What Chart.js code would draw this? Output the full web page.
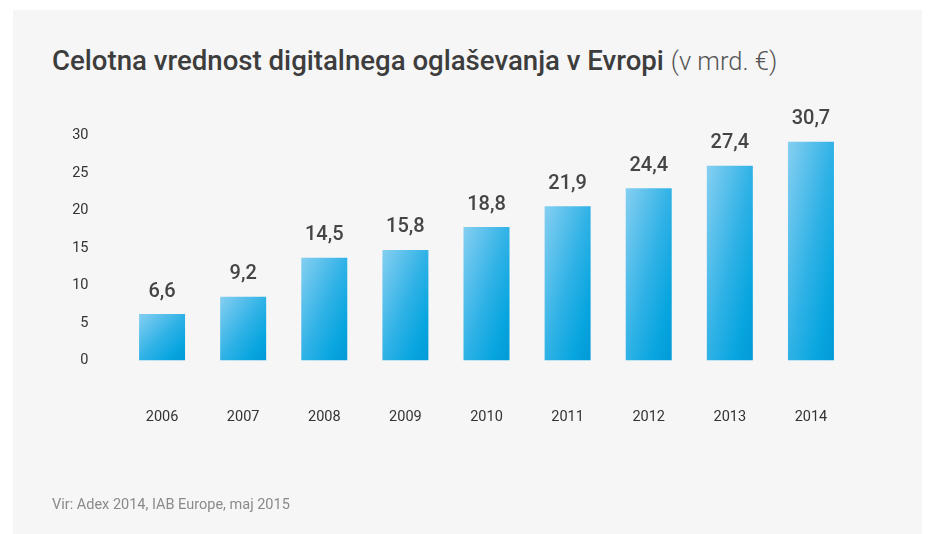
<!DOCTYPE html>
<html lang="sl">
<head>
<meta charset="UTF-8">
<title>Celotna vrednost digitalnega oglaševanja v Evropi</title>
<script src="https://cdn.jsdelivr.net/npm/chart.js@4"></script>
<style>
    html, body { margin: 0; padding: 0; background: #fff; }
    body { width: 935px; height: 534px; position: relative; overflow: hidden; font-family: Roboto, "DejaVu Sans", sans-serif; }
    .panel { position: absolute; left: 13px; top: 10px; width: 909px; height: 524px; background: #f6f6f6; }
    #chart { position: absolute; left: 0; top: 0; }
    .title { position: absolute; left: 52px; top: 47px; font-size: 27.6px; line-height: 28px; color: #3d3d3d; font-weight: 500; white-space: nowrap; }
    .title .unit { font-weight: 300; color: #555; font-size: 25.5px; }
    .source { position: absolute; left: 52px; top: 496px; font-size: 14.5px; line-height: 17px; color: #8a8a8a; white-space: nowrap; }
</style>
</head>
<body>
<div class="panel"></div>
<div class="title">Celotna vrednost digitalnega oglaševanja v Evropi <span class="unit">(v mrd. €)</span></div>
<canvas id="chart" width="935" height="534"></canvas>
<div class="source">Vir: Adex 2014, IAB Europe, maj 2015</div>

<script>
// categories
const years = ['2006', '2007', '2008', '2009', '2010', '2011', '2012', '2013', '2014'];
// printed values above the bars
const valueLabels = ['6,6', '9,2', '14,5', '15,8', '18,8', '21,9', '24,4', '27,4', '30,7'];
// bar heights as drawn against the axis
const barHeights = [6.2, 8.5, 13.7, 14.75, 17.8, 20.6, 23.0, 26.0, 29.2];
// y ticks
const yTicks = [0, 5, 10, 15, 20, 25, 30];

const BAR_PCT = 0.567;

// "to bottom right" gradient per bar: top-left light, bottom-right deep blue
function barGradient(context) {
    const chart = context.chart;
    const xs = chart.scales.x, ys = chart.scales.y;
    if (!xs || !ys || !chart.chartArea || context.dataIndex === undefined) return '#1aa9e2';
    const cx = xs.getPixelForValue(context.dataIndex);
    const top = ys.getPixelForValue(barHeights[context.dataIndex]);
    const base = ys.getPixelForValue(0);
    const w = (xs.width / years.length) * BAR_PCT;
    const h = base - top;
    if (!isFinite(cx) || !isFinite(top) || h <= 0) return '#1aa9e2';
    const diag = Math.sqrt(w * w + h * h);
    const half = w * h / diag;
    const dx = h / diag * half, dy = w / diag * half;
    const cy = (top + base) / 2;
    const g = chart.ctx.createLinearGradient(cx - dx, cy - dy, cx + dx, cy + dy);
    g.addColorStop(0, '#86cff1');
    g.addColorStop(0.5, '#30b2e6');
    g.addColorStop(0.8, '#07a5df');
    g.addColorStop(1, '#039ad7');
    return g;
}

const valueLabelPlugin = {
    id: 'valueLabels',
    afterDatasetsDraw(chart) {
        const ctx = chart.ctx;
        const meta = chart.getDatasetMeta(0);
        ctx.save();
        ctx.font = '500 20px Roboto';
        ctx.fillStyle = '#454545';
        ctx.textAlign = 'center';
        ctx.textBaseline = 'middle';
        meta.data.forEach((bar, i) => {
            ctx.fillText(valueLabels[i], bar.x, bar.y - 22.5);
        });
        ctx.restore();
    }
};

new Chart(document.getElementById('chart'), {
    type: 'bar',
    data: {
        labels: years,
        datasets: [{
            data: barHeights,
            backgroundColor: barGradient,
            borderWidth: 0,
            barPercentage: BAR_PCT,
            categoryPercentage: 1.0
        }]
    },
    options: {
        responsive: false,
        animation: false,
        events: [],
        layout: { padding: { left: 52, right: 83.5, top: 135.7, bottom: 103.5 } },
        plugins: {
            legend: { display: false },
            title: { display: false },
            tooltip: { enabled: false }
        },
        scales: {
            x: {
                grid: { display: false, drawTicks: false },
                border: { display: false },
                ticks: { color: '#333', font: { family: 'Roboto', size: 14.5 }, padding: 48.5 },
                afterFit: s => { s.height = 70; }
            },
            y: {
                min: 0,
                max: 30,
                grid: { display: false, drawTicks: false },
                border: { display: false },
                afterBuildTicks: s => { s.ticks = yTicks.map(v => ({ value: v })); },
                ticks: { color: '#333', font: { family: 'Roboto', size: 14.5 }, padding: 33 },
                afterFit: s => { s.width = 69.5; }
            }
        }
    },
    plugins: [valueLabelPlugin]
});
</script>
</body>
</html>
